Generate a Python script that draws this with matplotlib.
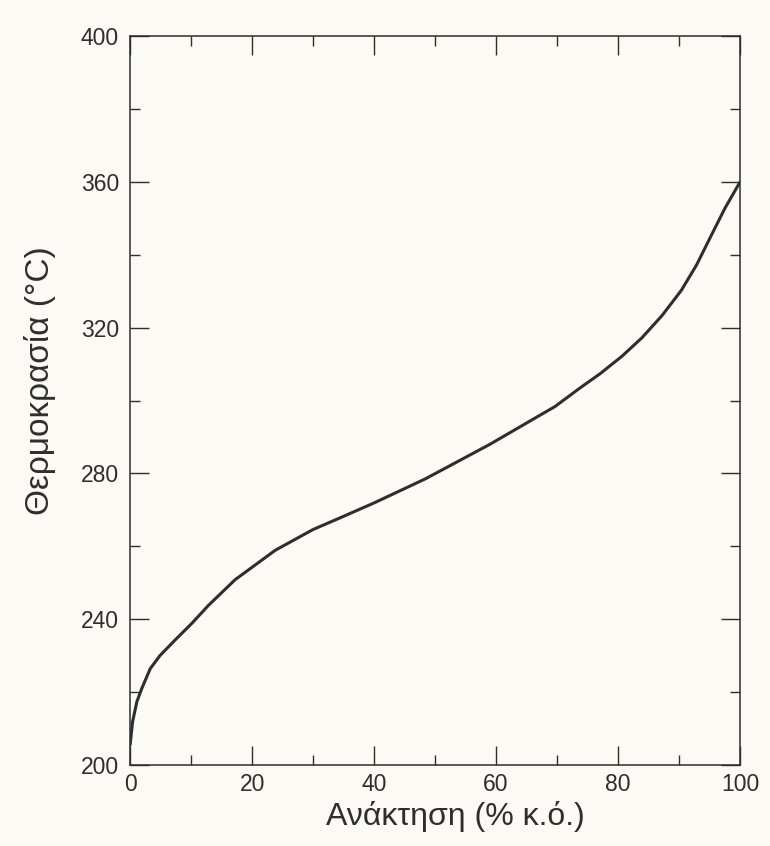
import numpy as np
import matplotlib.pyplot as plt
from matplotlib.ticker import MultipleLocator

# Ανάκτηση (% κ.ό.) και θερμοκρασία (°C), τιμές από το διάγραμμα
recovery = [0, 0.4, 1.1, 1.9, 3.3, 4.9, 7.4, 10.1, 12.8, 17.2, 23.8, 30, 34.7, 40,
            48.4, 59, 69.7, 73.8, 77.0, 80.6, 83.9, 87.2, 90.4, 92.9, 95.4, 97.5, 100]
temperature = [205.5, 211.8, 217.3, 220.9, 226.4, 230.0, 234.3, 238.8, 243.7, 250.8,
               258.9, 264.6, 268.0, 271.9, 278.5, 288, 298.4, 303.5, 307.3, 312.1,
               317.2, 323.3, 330.3, 337.3, 345.7, 352.7, 360]

plt.rcParams['font.family'] = ['Liberation Sans', 'DejaVu Sans']

bg = '#fbfaf4'
ink = '#2e2e2e'

fig = plt.figure(figsize=(7.7, 8.46), dpi=100, facecolor=bg)
ax = fig.add_axes([0.169, 0.096, 0.792, 0.861], facecolor=bg)

ax.plot(recovery, temperature, color=ink, linewidth=2.2,
        solid_capstyle='round', solid_joinstyle='round')

ax.set_xlim(0, 100)
ax.set_ylim(200, 400)
ax.xaxis.set_major_locator(MultipleLocator(20))
ax.xaxis.set_minor_locator(MultipleLocator(10))
ax.yaxis.set_major_locator(MultipleLocator(40))
ax.yaxis.set_minor_locator(MultipleLocator(20))

ax.tick_params(which='both', direction='in', top=True, right=True,
               color=ink, width=1.0, labelsize=16.5, labelcolor=ink)
ax.tick_params(which='major', length=14)
ax.tick_params(which='minor', length=7)
ax.tick_params(axis='x', pad=6)
ax.tick_params(axis='y', pad=8)

for s in ax.spines.values():
    s.set_color(ink)
    s.set_linewidth(1.1)

ax.set_xlabel('Ανάκτηση (% κ.ό.)', fontsize=23, color=ink, va='center')
ax.set_ylabel('Θερμοκρασία (°C)', fontsize=24, color=ink, va='center')
ax.xaxis.set_label_coords(0.533, -0.071)
ax.yaxis.set_label_coords(-0.148, 0.528)

fig.savefig('out.png', dpi=100, facecolor=bg)
